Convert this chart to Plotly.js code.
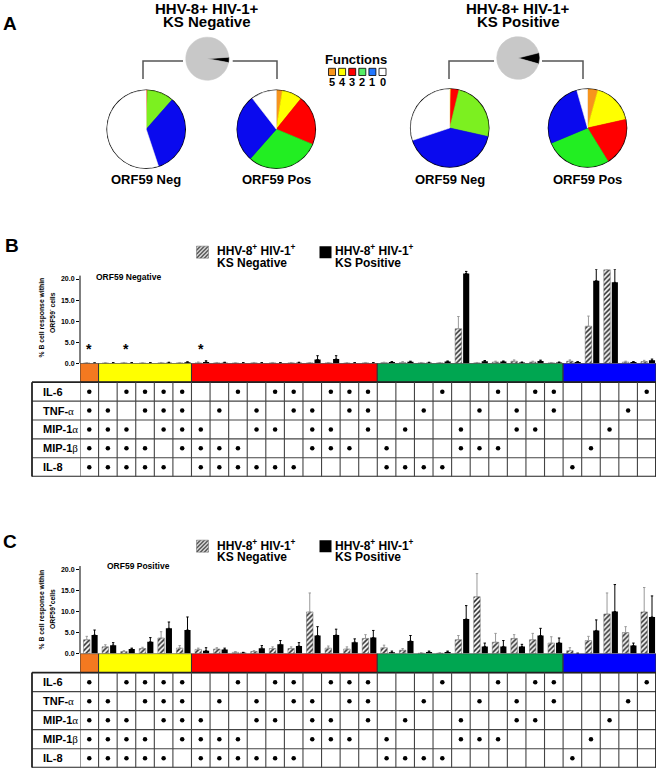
<!DOCTYPE html>
<html><head><meta charset="utf-8">
<script src="https://cdn.plot.ly/plotly-3.0.1.min.js"></script>
<style>html,body{margin:0;padding:0;background:#fff}#chart{width:660px;height:771px}</style>
</head><body><div id="chart"></div>
<script>
// ================= DATA =================
const cytokines = ['IL-6', 'TNF-α', 'MIP-1α', 'MIP-1β', 'IL-8'];
// 31 cytokine combinations (rows: IL-6, TNF-α, MIP-1α, MIP-1β, IL-8)
const combos = [
  [1,1,1,1,1],
  [0,1,1,1,1],[1,0,1,1,1],[1,1,0,1,1],[1,1,1,0,1],[1,1,1,1,0],
  [0,0,1,1,1],[0,1,0,1,1],[1,0,0,1,1],[0,1,1,0,1],[1,0,1,0,1],
  [1,1,0,0,1],[0,1,1,1,0],[1,0,1,1,0],[1,1,0,1,0],[1,1,1,0,0],
  [0,0,0,1,1],[0,0,1,0,1],[0,1,0,0,1],[1,0,0,0,1],[0,0,1,1,0],
  [0,1,0,1,0],[1,0,0,1,0],[0,1,1,0,0],[1,0,1,0,0],[1,1,0,0,0],
  [0,0,0,0,1],[0,0,0,1,0],[0,0,1,0,0],[0,1,0,0,0],[1,0,0,0,0]
];
const columns = combos.map((c, i) => i + 1);
const groupNames = ['HHV-8<sup>+</sup> HIV-1<sup>+</sup>', 'HHV-8<sup>+</sup> HIV-1<sup>+</sup>'];
const groupSub = ['KS Negative', 'KS Positive'];

// Panel B: ORF59 negative B cells (% response)
const bKSneg    = [0.05,0.05,0.1,0.05,0.1,0.1,0.1,0.1,0.05,0.1,0.1,0.1,0.1,0.1,0.05,0.1,0.15,0.2,0.1,0.1,8.2,0.1,0.3,0.5,0.3,0.1,0.5,8.8,22.2,0.3,0.4];
const bKSnegErr = [0.05,0.05,0.1,0.05,0.1,0.1,0.2,0.1,0.05,0.1,0.1,0.1,0.1,0.1,0.05,0.1,0.1,0.2,0.1,0.1,2.9,0.1,0.2,0.3,0.2,0.1,0.3,2.4,1.0,0.2,0.3];
const bKSpos    = [0.05,0.1,0.1,0.1,0.15,0.25,0.3,0.15,0.1,0.1,0.1,0.15,0.9,1.0,0.1,0.1,0.3,0.35,0.15,0.4,21.3,0.5,0.4,0.2,0.55,0.2,0.3,19.6,19.2,0.3,0.7];
const bKSposErr = [0.05,0.05,0.05,0.05,0.1,0.1,0.3,0.1,0.05,0.05,0.05,0.1,0.9,0.8,0.05,0.05,0.1,0.15,0.1,0.15,0.5,0.15,0.15,0.1,0.2,0.1,0.1,2.7,3.1,0.1,0.3];
const bSignificant = [1, 3, 7];

// Panel C: ORF59 positive B cells (% response)
const cKSneg    = [3.3,1.6,0.5,1.2,3.7,1.3,1.0,1.1,0.3,0.5,1.2,1.2,9.9,1.3,1.1,3.6,1.4,0.8,0.1,0.1,3.3,13.5,2.7,3.6,3.3,2.5,0.7,3.1,9.4,5.0,9.9];
const cKSnegErr = [0.8,0.5,0.2,0.3,1.5,0.6,0.3,0.3,0.2,0.2,0.4,0.4,4.5,0.5,0.5,0.9,0.6,0.4,0.1,0.1,1.0,5.5,2.1,0.9,1.5,1.5,0.7,1.0,5.0,1.4,5.8];
const cKSpos    = [4.4,2.0,1.1,2.8,6.0,5.6,0.7,1.0,0.2,1.3,2.2,1.8,4.3,4.4,2.7,3.8,0.3,3.0,0.4,0.4,8.2,1.7,1.7,1.7,4.3,2.6,0.05,5.5,10.0,1.9,8.7];
const cKSposErr = [1.2,0.6,0.2,1.0,1.5,3.1,0.7,0.3,0.1,0.6,0.9,0.8,2.1,1.4,0.8,1.7,0.3,1.3,0.2,0.2,3.2,0.8,1.4,0.5,1.7,1.1,0.05,2.5,6.4,0.6,5.0];

// Panel A: pie fractions, functions 5,4,3,2,1,0
const fnLabels = ['5','4','3','2','1','0'];
const pieKSnegORFneg = [0, 0, 0.5, 11, 33.4, 55.1];
const pieKSnegORFpos = [2.5, 8.3, 20.5, 30.2, 28, 10.5];
const pieKSposORFneg = [0, 0.5, 3.3, 24.7, 41.4, 30.1];
const pieKSposORFpos = [4.3, 17.2, 19.7, 27.5, 26.9, 4.4];
const orfSplitKSneg = [4, 96];     // ORF59+ vs ORF59- share
const orfSplitKSpos = [8.3, 91.7];
const yTicks = [0, 5, 10, 15, 20];

// ================= STYLE / LAYOUT =================
const W = 660, H = 771;
const px = v => v / W;
const py = v => 1 - v / H;
const FONT = 'Liberation Sans, Arial, Helvetica, sans-serif';
const fnColorsPos = ['#F7941D','#FFFF00','#FF0000','#22EE22','#0A0AEE','#FFFFFF'];
const fnColorsNeg = ['#F7941D','#FFFF00','#FF0000','#7CF020','#0A0AEE','#FFFFFF'];
const keyColors   = ['#F7941D','#FFFF00','#FF0000','#55EE66','#2277FF','#FFFFFF'];
const bandColors = {5:'#F47920', 4:'#FFFF00', 3:'#FF0000', 2:'#00A651', 1:'#0000FF'};

const traces = [];
const shapes = [];
const annotations = [];

function pieDomain(cx, cy, r) {
  return {x: [px(cx - r), px(cx + r)], y: [py(cy + r), py(cy - r)]};
}
function addPie(vals, colors, cx, cy, r, ring, rotation) {
  if (ring) traces.push({type:'pie', values:[1], marker:{colors:['#000'], line:{width:0}},
    domain: pieDomain(cx, cy, r + 1), textinfo:'none', hoverinfo:'skip', showlegend:false, sort:false});
  traces.push({type:'pie', values: vals, labels: vals.map((v,i)=>'s'+i+'_'+cx), marker:{colors: colors, line:{width:0.6, color: colors}},
    domain: pieDomain(cx, cy, r), textinfo:'none', hoverinfo:'skip', showlegend:false,
    sort:false, direction:'clockwise', rotation: rotation || 0});
}
addPie(orfSplitKSneg, ['#000000','#C8C8C8'], 207.3, 58.7, 21.5, false, 86);
addPie(orfSplitKSpos, ['#000000','#C8C8C8'], 518, 58, 21.3, false, 76);
addPie(pieKSnegORFneg, fnColorsNeg, 146.2, 129.2, 38.8, true);
addPie(pieKSnegORFpos, fnColorsPos, 276.3, 129.2, 38.8, true);
addPie(pieKSposORFneg, fnColorsNeg, 449.7, 128, 38.8, true);
addPie(pieKSposORFpos, fnColorsPos, 587.5, 128, 38.8, true);

// brackets
function pth(points) {
  return points.map((p, i) => (i ? 'L' : 'M') + px(p[0]) + ',' + py(p[1])).join(' ');
}
[[[143,79],[143,61],[183,61]], [[232.7,61],[277,61],[277,79]],
 [[449,79],[449,61],[494,61]], [[542,61],[583,61],[583,79]]].forEach(pts => {
  shapes.push({type:'path', xref:'paper', yref:'paper', path: pth(pts), line:{color:'#555', width:1.5}});
});

function ann(text, x, y, size, extra) {
  annotations.push(Object.assign({text, xref:'paper', yref:'paper', x: px(x), y: py(y), showarrow:false,
    font:{family:FONT, size, color:'#000'}, xanchor:'center', yanchor:'middle'}, extra || {}));
}
ann('<b>A</b>', 10, 23, 19);
ann('<b>B</b>', 12, 246, 19);
ann('<b>C</b>', 10, 541.7, 19);
ann('<b>HHV-8+ HIV-1+</b>', 207, 9, 15);
ann('<b>KS Negative</b>', 207, 21, 15);
ann('<b>HHV-8+ HIV-1+</b>', 518, 9, 15);
ann('<b>KS Positive</b>', 518, 21, 15);
ann('<b>ORF59 Neg</b>', 146.2, 179, 13);
ann('<b>ORF59 Pos</b>', 276.3, 179, 13);
ann('<b>ORF59 Neg</b>', 449.7, 179, 13);
ann('<b>ORF59 Pos</b>', 587.5, 179, 13);

// functions key
ann('<b>Functions</b>', 356, 60, 13);
fnLabels.forEach((lab, i) => {
  const x0 = 328.5 + i * 10.1;
  shapes.push({type:'rect', xref:'paper', yref:'paper', x0: px(x0), x1: px(x0 + 7), y0: py(75.5), y1: py(68.3),
    fillcolor: keyColors[i], line:{color:'#000', width:0.8}});
  ann('<b>' + lab + '</b>', x0 + 3.5, 81.7, 11);
});

// ================= BAR PANELS =================
const nFunc = combos.map(c => c.reduce((a, b) => a + b, 0));
const groups = [];
nFunc.forEach((n, i) => {
  if (groups.length && groups[groups.length - 1].n === n) groups[groups.length - 1].end = i + 1;
  else groups.push({n, start: i + 1, end: i + 1});
});

function panel(cfg) {
  const {xa, ya, ta, neg, negErr, pos, posErr, legendId} = cfg;
  const zeros = neg.map(() => 0);
  traces.push({type:'bar', x: columns, y: neg, xaxis: xa, yaxis: ya, offset: -0.31, width: 0.35,
    name: ' ', legend: legendId, legendrank: 1,
    marker:{color:'#fff', pattern:{shape:'/', fgcolor:'#222', bgcolor:'#fff', size:3.5, solidity:0.45}, line:{color:'#666', width:0.5}},
    error_y:{type:'data', symmetric:false, array: negErr, arrayminus: zeros, color:'#999', thickness:1, width:1.2},
    hoverinfo:'skip'});
  traces.push({type:'bar', x: columns, y: pos, xaxis: xa, yaxis: ya, offset: 0.12, width: 0.33,
    name: ' ', legend: legendId, legendrank: 2,
    marker:{color:'#000', line:{width:0}},
    error_y:{type:'data', symmetric:false, array: posErr, arrayminus: zeros, color:'#000', thickness:1, width:1.2},
    hoverinfo:'skip'});
  // function-count band (rows 5..6 of table axis)
  groups.forEach(g => {
    shapes.push({type:'rect', xref: xa, yref: ta, x0: g.start - 0.5, x1: g.end + 0.5, y0: 5, y1: 6,
      fillcolor: bandColors[g.n], line:{color:'#333', width:1}, layer:'below'});
  });
  // table grid
  const xLeftPaper = px(32), xRightPaper = px(656);
  for (let r = 0; r <= 5; r++) {
    const outer = (r === 0 || r === 5);
    shapes.push({type:'line', xref:'paper', yref: ta, x0: xLeftPaper, x1: xRightPaper, y0: r, y1: r,
      line:{color: outer ? '#222' : '#444', width: outer ? 1.8 : 1.1}});
  }
  for (let k = 0; k <= columns.length; k++) {
    const outer = (k === columns.length);
    shapes.push({type:'line', xref: xa, yref: ta, x0: k + 0.5, x1: k + 0.5, y0: 0, y1: 5,
      line:{color: outer ? '#222' : '#444', width: outer ? 1.8 : 1.1}});
  }
  shapes.push({type:'line', xref:'paper', yref: ta, x0: xLeftPaper, x1: xLeftPaper, y0: 0, y1: 5, line:{color:'#222', width:1.8}});
  // y axis line
  shapes.push({type:'line', xref: xa + ' domain', yref: ya, x0: 0, x1: 0, y0: 0, y1: 20.8, line:{color:'#000', width:1}});
  // dots
  const dx = [], dy = [];
  combos.forEach((c, i) => c.forEach((v, r) => { if (v) { dx.push(i + 1); dy.push(4.5 - r); } }));
  traces.push({type:'scatter', mode:'markers', x: dx, y: dy, xaxis: xa, yaxis: ta, showlegend:false,
    marker:{color:'#000', size:4.5}, hoverinfo:'skip'});
  // row labels
  cytokines.forEach((name, r) => {
    let t = name.replace('α', '<span style="font-family:Liberation Serif;font-weight:normal">α</span>')
                .replace('β', '<span style="font-family:Liberation Serif;font-weight:normal">β</span>');
    annotations.push({text: '<b>' + t + '</b>', xref:'paper', yref: ta, x: px(41), y: 4.5 - r, xanchor:'left', yanchor:'middle',
      showarrow:false, font:{family:FONT, size:11, color:'#000'}});
  });
}

panel({xa:'x', ya:'y', ta:'y3', neg:bKSneg, negErr:bKSnegErr, pos:bKSpos, posErr:bKSposErr, legendId:'legend'});
panel({xa:'x2', ya:'y2', ta:'y4', neg:cKSneg, negErr:cKSnegErr, pos:cKSpos, posErr:cKSposErr, legendId:'legend2'});

// significance asterisks (panel B)
bSignificant.forEach(c => annotations.push({text:'<b>*</b>', xref:'x', yref:'y', x: c, y: 3.3, showarrow:false,
  font:{family:FONT, size:14, color:'#000'}}));

// panel texts
ann('<b>ORF59 Negative</b>', 94, 276.7, 8.5, {xanchor:'left'});
ann('<b>ORF59 Positive</b>', 105, 566, 8.5, {xanchor:'left'});
ann('<b>% B cell response within</b>', 41.5, 318, 6.8, {textangle:-90});
ann('<b>ORF59<sup>-</sup> cells</b>', 52, 312, 6.8, {textangle:-90});
ann('<b>% B cell response within</b>', 41.5, 610, 6.8, {textangle:-90});
ann('<b>ORF59<sup>+</sup>cells</b>', 52, 609, 6.8, {textangle:-90});
// legend texts (two tightly spaced lines next to each legend swatch)
[[250.5, 263], [544.5, 557]].forEach(([y1, y2]) => {
  [215, 333].forEach((x, i) => {
    ann('<b>' + groupNames[i] + '</b>', x, y1, 12, {xanchor:'left'});
    ann('<b>' + groupSub[i] + '</b>', x, y2, 12, {xanchor:'left'});
  });
});

const xBase = {domain:[px(80), px(656)], range:[0.5, 31.5], showgrid:false, zeroline:false, showline:false,
  showticklabels:false, ticks:'', fixedrange:true};
const yBar = (bottom, top, maxV) => ({domain:[py(bottom), py(top)], range:[0, maxV], tickvals: yTicks,
  ticktext: yTicks.map(v => v.toFixed(1)), ticks:'outside', ticklen:3, tickwidth:1, tickcolor:'#000',
  showgrid:false, zeroline:false, showline:false, fixedrange:true,
  tickfont:{family:FONT, size:7, color:'#000', weight:'bold'}});
const yTable = (bottom, top, anchor) => ({domain:[py(bottom), py(top)], range:[0, 6], visible:false, anchor, fixedrange:true});

const legendBase = (y) => ({x: px(182.5), y: py(y), xanchor:'left', yanchor:'top', orientation:'h',
  font:{family:FONT, size:12.5, color:'#000'}, entrywidth:78, entrywidthmode:'pixels', valign:'top',
  bgcolor:'rgba(0,0,0,0)', borderwidth:0, traceorder:'normal'});

const layout = {
  width: W, height: H, margin:{l:0, r:0, t:0, b:0}, paper_bgcolor:'#fff', plot_bgcolor:'rgba(0,0,0,0)',
  barmode:'overlay', showlegend:true,
  xaxis: Object.assign({anchor:'y'}, xBase),
  yaxis: Object.assign({anchor:'x'}, yBar(363.3, 269.3, 22.3)),
  xaxis2: Object.assign({anchor:'y2'}, xBase),
  yaxis2: Object.assign({anchor:'x2'}, yBar(653.6, 565.2, 21)),
  yaxis3: yTable(476.7, 363.3, 'x'),
  yaxis4: yTable(767.7, 653.6, 'x2'),
  legend: legendBase(237.5),
  legend2: legendBase(531.5),
  shapes, annotations
};

Plotly.newPlot('chart', traces, layout, {staticPlot:true, displayModeBar:false});
</script>
</body></html>
